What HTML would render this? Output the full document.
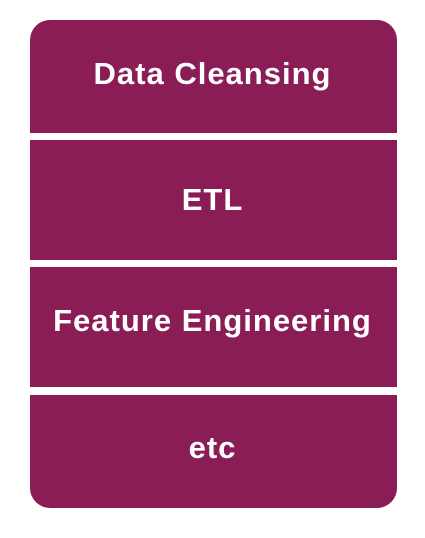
<!DOCTYPE html>
<html><head><style>
body{margin:0;width:425px;height:538px;background:#fff;position:relative;overflow:hidden;font-family:"Liberation Sans",sans-serif;}
.b{position:absolute;left:30px;width:367px;background:#8a1c56;}
.t{position:absolute;left:0;width:425px;text-align:center;color:#fff;font-weight:bold;font-size:31px;letter-spacing:1px;line-height:36px;}
</style></head><body>
<div class="b" style="top:20px;height:113px;border-radius:20px 20px 0 0"></div>
<div class="b" style="top:140px;height:120px"></div>
<div class="b" style="top:267px;height:120px"></div>
<div class="b" style="top:395px;height:113px;border-radius:0 0 20px 20px"></div>
<div class="t" style="top:56px">Data Cleansing</div>
<div class="t" style="top:182px">ETL</div>
<div class="t" style="top:303px">Feature Engineering</div>
<div class="t" style="top:430px">etc</div>
</body></html>
